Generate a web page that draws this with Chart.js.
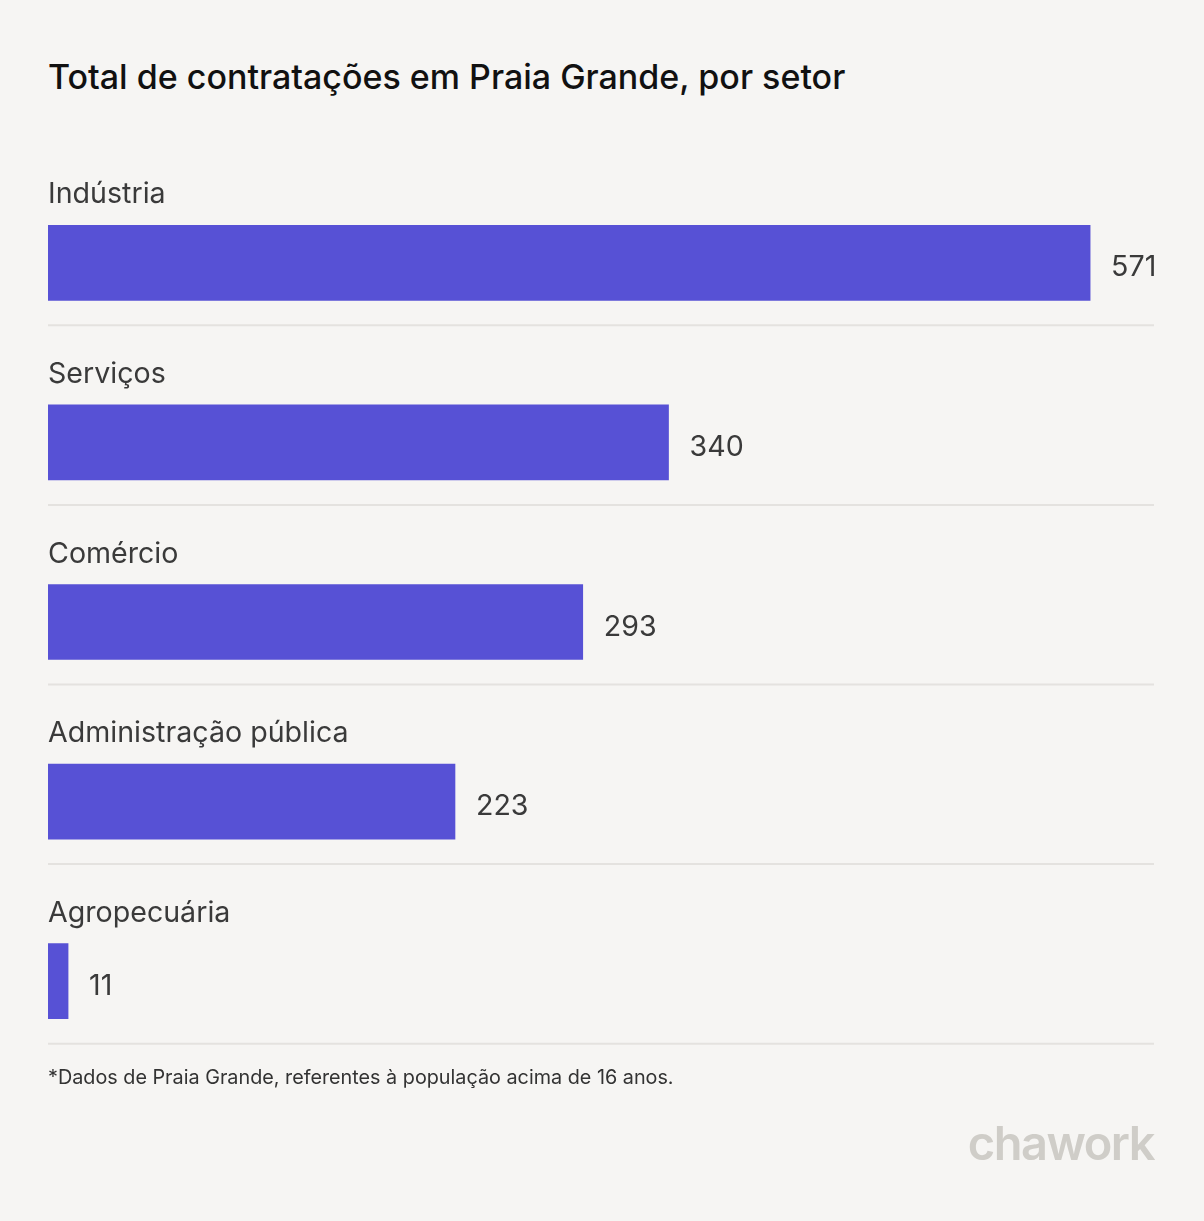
<!DOCTYPE html>
<html>
<head>
<meta charset="utf-8">
<script src="https://cdn.jsdelivr.net/npm/chart.js@4/dist/chart.umd.min.js"></script>
<style>
  html, body { margin: 0; padding: 0; background: #F6F5F3; }
  body { width: 1204px; height: 1221px; position: relative; overflow: hidden; font-family: Inter, "Noto Sans", sans-serif; }
  #title { position: absolute; left: 48px; top: 56px; font-size: 34px; font-weight: 500; color: #111; }
  #note { position: absolute; left: 48px; top: 1065px; font-size: 19.8px; color: #333; }
  #logo { position: absolute; right: 50px; top: 1114px; font-size: 47px; font-weight: 600; color: #CFCDC8; letter-spacing: -1.5px; }
  #wrap { position: absolute; left: 0; top: 0; width: 1204px; height: 1221px; }
</style>
</head>
<body>
<div id="title">Total de contratações em Praia Grande, por setor</div>
<div id="wrap"><canvas id="barchart"></canvas></div>
<div id="note">*Dados de Praia Grande, referentes à população acima de 16 anos.</div>
<div id="logo">chawork</div>
<script>
const categories = ['Indústria', 'Serviços', 'Comércio', 'Administração pública', 'Agropecuária']
const values = [571, 340, 293, 223, 11]

// category label above each bar, value right of it, thin rule below
const rowLabels = {
    id: 'rowLabels',
    afterDatasetsDraw(chart) {
        const c = chart.ctx
        const meta = chart.getDatasetMeta(0)
        const area = chart.chartArea
        c.save()
        meta.data.forEach((bar, i) => {
            const top = bar.y - bar.height / 2
            const bottom = bar.y + bar.height / 2
            c.font = '400 28.6px Inter'
            c.fillStyle = '#3a3a3a'
            c.textBaseline = 'alphabetic'
            c.textAlign = 'left'
            c.fillText(categories[i], area.left, top - 22)
            c.textBaseline = 'middle'
            c.fillText(String(values[i]), bar.x + 21, bar.y + 5)
            c.strokeStyle = '#E4E2DF'
            c.lineWidth = 2
            c.beginPath()
            c.moveTo(area.left, bottom + 25)
            c.lineTo(area.right, bottom + 25)
            c.stroke()
        })
        c.restore()
    }
}

const ctx = document.getElementById('barchart')
const myChart = new Chart(ctx, {
    type: 'bar',
    data: {
        labels: categories,
        datasets: [{
            data: values,
            backgroundColor: '#5751D5',
            borderWidth: 0,
            barThickness: 75
        }]
    },
    options: {
        indexAxis: 'y',
        responsive: true,
        maintainAspectRatio: false,
        animation: false,
        layout: {
            padding: { left: 48, right: 50, top: 173, bottom: 150 }
        },
        plugins: {
            legend: { display: false },
            tooltip: { enabled: false }
        },
        scales: {
            x: { display: false, min: 0, max: 606 },
            y: { display: false }
        }
    },
    plugins: [rowLabels]
});
</script>
</body>
</html>
